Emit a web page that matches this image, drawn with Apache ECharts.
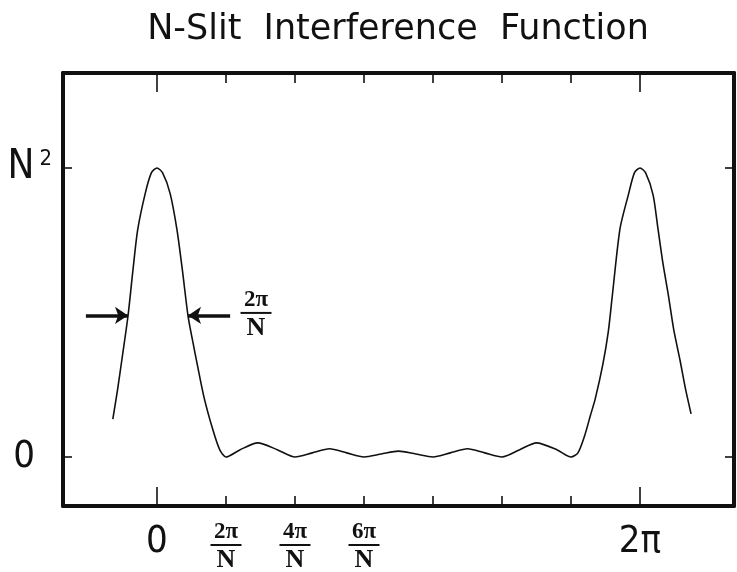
<!DOCTYPE html>
<html>
<head>
<meta charset="utf-8">
<script src="https://cdn.jsdelivr.net/npm/echarts@6/dist/echarts.min.js"></script>
<style>
  html, body { margin: 0; padding: 0; background: #fff; }
  #chart { width: 737px; height: 572px; }
</style>
</head>
<body>
<div id="chart"></div>
<script>
// Phase axis is measured in units of 2π/N (N = 7), so 2π sits at 7.
const N = 7;
const PEAK = N * N;

// Interference intensity sampled along the phase axis.
const phase = [-0.64, -0.57, -0.51, -0.42, -0.35, -0.28, -0.17, -0.08, 0, 0.08, 0.19, 0.29, 0.37,
  0.45, 0.52, 0.58, 0.68, 0.81, 0.91, 1.0, 1.2, 1.46, 1.75, 2.0, 2.25, 2.5, 2.75, 3.0, 3.25, 3.5,
  3.75, 4.0, 4.25, 4.5, 4.75, 5.0, 5.25, 5.5, 5.8, 6.0, 6.1, 6.2, 6.28, 6.35, 6.46, 6.54, 6.6,
  6.71, 6.83, 6.92, 7.0, 7.08, 7.19, 7.26, 7.33, 7.41, 7.49, 7.58, 7.66, 7.74];
const intensity = [6.4, 11.5, 16.4, 23.9, 31.5, 38.5, 44.7, 48.2, 49, 48.2, 44.7, 38.5, 31.5,
  23.9, 19.5, 15.9, 10.2, 4.6, 1.2, 0, 1.2, 2.4, 1.2, 0, 0.7, 1.4, 0.7, 0, 0.5, 1.0,
  0.5, 0, 0.7, 1.4, 0.7, 0, 1.2, 2.4, 1.2, 0, 0.7, 3.7, 7.0, 9.8, 15.6, 21.2, 27.5,
  38.7, 44.4, 48.2, 49, 48.2, 44.4, 38.7, 33.0, 27.5, 21.5, 16.4, 11.5, 7.3];

// Tick positions and their labels.
const minorTicks = [1, 2, 3, 4, 5, 6];
const majorTicks = [0, 7];
const xLabelValues = [0, 1, 2, 3, 7];
const xLabelText = { 0: '0', 1: '2π|N', 2: '4π|N', 3: '6π|N', 7: '2π' };
const yLabelValues = [0, PEAK];

// Width marker: arrows pointing at the central peak, with its 2π/N label.
const widthLevel = 24.0;
const widthArrows = [[-1.03, -0.42], [1.06, 0.45]];
const widthLabel = { x: 1.435, text: '2π|N' };

const INK = '#111';
const NARROW = "'Liberation Sans Narrow', 'DejaVu Sans Condensed', 'Liberation Sans', sans-serif";
const SERIF = "'Liberation Serif', 'DejaVu Serif', serif";

const fractionRich = {
  big: { fontSize: 38, fontFamily: NARROW, lineHeight: 40, color: INK },
  num: { fontSize: 23, fontWeight: 'bold', fontFamily: SERIF, lineHeight: 20, color: INK },
  bar: { width: 31, height: 2, backgroundColor: INK, fontSize: 2, lineHeight: 6 },
  den: { fontSize: 26, fontWeight: 'bold', fontFamily: SERIF, lineHeight: 25, color: INK }
};

function fraction(t) {
  const parts = t.split('|');
  if (parts.length === 1) return '{big|' + t + '}';
  return '{num|' + parts[0] + '}\n{bar| }\n{den|' + parts[1] + '}';
}

const X_MIN = -1.362, X_MAX = 8.362;
const Y_MIN = -8.31, Y_MAX = 65.1;

function xAxisDef(position, ticks, len, showLine, showLabel) {
  return {
    type: 'value', position, min: X_MIN, max: X_MAX,
    axisLine: { show: showLine, onZero: false, lineStyle: { color: INK, width: 4 } },
    axisTick: { show: true, inside: true, customValues: ticks, length: len, lineStyle: { color: INK, width: 1.6 } },
    axisLabel: showLabel ? {
      show: true, customValues: xLabelValues, margin: 16,
      formatter: v => fraction(xLabelText[Math.round(v)] || ''),
      rich: fractionRich
    } : { show: false },
    splitLine: { show: false }
  };
}

function yAxisDef(position, showLabel) {
  return {
    type: 'value', position, min: Y_MIN, max: Y_MAX,
    axisLine: { show: true, onZero: false, lineStyle: { color: INK, width: 4 } },
    axisTick: { show: true, inside: true, customValues: yLabelValues, length: 9, lineStyle: { color: INK, width: 1.6 } },
    axisLabel: showLabel ? {
      show: true, customValues: yLabelValues, margin: 11, align: 'right',
      formatter: v => (Math.round(v) === 0 ? '{z|0}' : '{n|N}{s|2}'),
      rich: {
        z: { fontSize: 38, fontFamily: NARROW, color: INK, padding: [0, 17, 0, 0] },
        n: { fontSize: 40, fontFamily: NARROW, color: INK, lineHeight: 44 },
        s: { fontSize: 22, fontFamily: NARROW, color: INK, verticalAlign: 'top', lineHeight: 22, padding: [2, 0, 0, 5] }
      }
    } : { show: false },
    splitLine: { show: false }
  };
}

const chart = echarts.init(document.getElementById('chart'), null, { renderer: 'canvas' });
chart.setOption({
  animation: false,
  backgroundColor: '#fff',
  title: {
    text: 'N-Slit  Interference  Function',
    left: 393, top: 7, textAlign: 'center',
    textStyle: { fontSize: 35, fontWeight: 'normal', fontFamily: "'DejaVu Sans', sans-serif", color: INK }
  },
  grid: { left: 63, right: 3, top: 73, bottom: 66, containLabel: false, outerBoundsMode: 'none' },
  xAxis: [
    xAxisDef('bottom', minorTicks, 10, true, true),
    xAxisDef('bottom', majorTicks, 19, false, false),
    xAxisDef('top', minorTicks, 10, true, false),
    xAxisDef('top', majorTicks, 19, false, false)
  ],
  yAxis: [yAxisDef('left', true), yAxisDef('right', false)],
  series: [{
    type: 'line',
    xAxisIndex: 0, yAxisIndex: 0,
    data: phase.map((p, i) => [p, intensity[i]]),
    smooth: 0.25,
    showSymbol: false,
    silent: true,
    lineStyle: { color: INK, width: 1.6 },
    markLine: {
      silent: true,
      symbol: ['none', 'arrow'],
      symbolSize: 13,
      label: { show: false },
      lineStyle: { color: INK, width: 3.5, type: 'solid' },
      data: widthArrows.map(a => [{ coord: [a[0], widthLevel] }, { coord: [a[1], widthLevel] }])
    },
    markPoint: {
      silent: true,
      symbol: 'circle', symbolSize: 1,
      itemStyle: { color: 'rgba(0,0,0,0)' },
      label: {
        show: true, position: 'inside',
        formatter: () => fraction(widthLabel.text),
        rich: fractionRich
      },
      data: [{ coord: [widthLabel.x, widthLevel] }]
    }
  }]
});
</script>
</body>
</html>
